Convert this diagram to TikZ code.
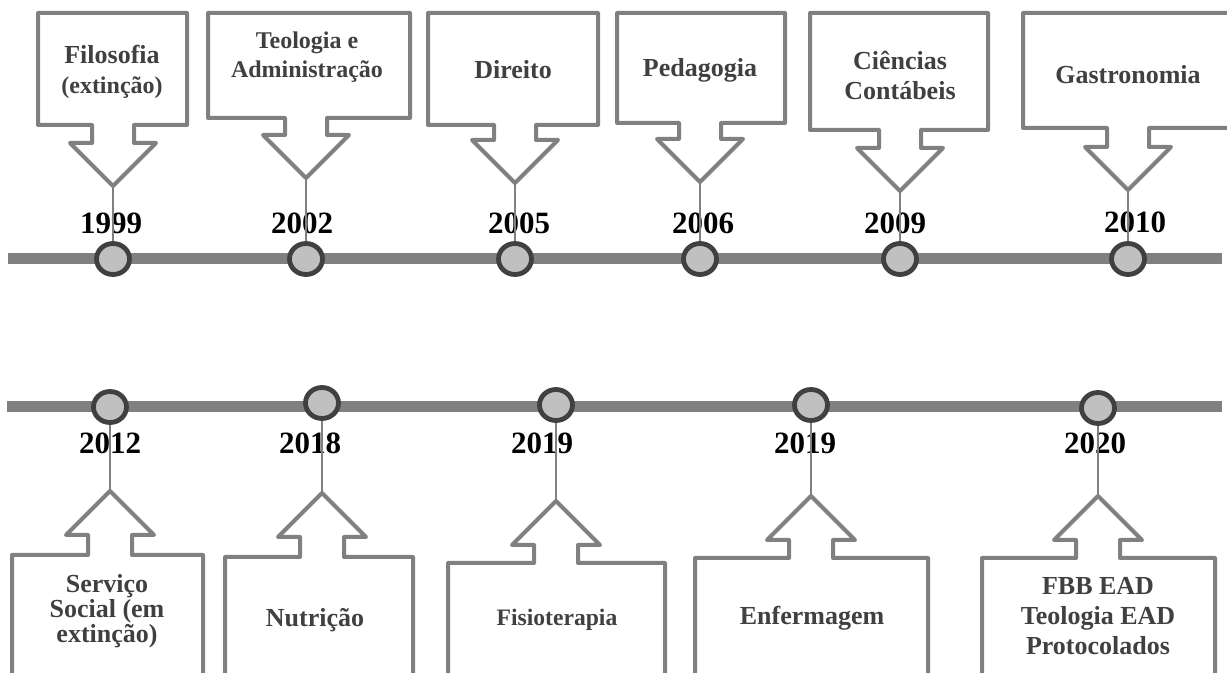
\documentclass[tikz,border=0pt]{standalone}
\usepackage{fontspec}
\setmainfont{Liberation Serif}
\usetikzlibrary{shapes.geometric}
\definecolor{barGray}{HTML}{808080}
\definecolor{dotFill}{HTML}{C0C0C0}
\definecolor{dotEdge}{HTML}{404040}
\definecolor{txtGray}{HTML}{404040}

\begin{document}
\begin{tikzpicture}[x=0.5pt, y=-0.5pt,
  timeline/.style={draw=barGray, line width=5.5pt},
  callout/.style={draw=barGray, line width=2pt, line join=round, fill=white},
  dot/.style={ellipse, draw=dotEdge, fill=dotFill, line width=2.4pt, minimum width=16.5pt, minimum height=15.5pt, inner sep=0pt},
  stem/.style={draw=barGray, line width=0.6pt},
  yearlbl/.style={font=\fontsize{15.5}{18}\selectfont\bfseries, text=black, inner sep=0pt},
  boxlbl/.style={font=\fontsize{13}{15}\selectfont\bfseries, text=txtGray, align=center, inner sep=0pt}]

\clip (0,0) rectangle (1227,673);

\coordinate (TopA) at (8,259);
\coordinate (TopB) at (1222,259);
\coordinate (BotA) at (7,407);
\coordinate (BotB) at (1222,407);
\draw [timeline] (TopA) -- (TopB);
\draw [timeline] (BotA) -- (BotB);

\draw [callout] (38,13) -- (187,13) -- (187,125) -- (134,125) -- (134,143) -- (156,143) -- (113,186) coordinate (tip1999) -- (70,143) -- (92,143) -- (92,125) -- (38,125) -- cycle;
\draw [callout] (208,13) -- (410,13) -- (410,118) -- (327,118) -- (327,135) -- (349,135) -- (306,178) coordinate (tip2002) -- (263,135) -- (285,135) -- (285,118) -- (208,118) -- cycle;
\draw [callout] (428,13) -- (598,13) -- (598,125) -- (536,125) -- (536,140) -- (558,140) -- (515,183) coordinate (tip2005) -- (472,140) -- (494,140) -- (494,125) -- (428,125) -- cycle;
\draw [callout] (617,13) -- (785,13) -- (785,123) -- (721,123) -- (721,139) -- (743,139) -- (700,182) coordinate (tip2006) -- (657,139) -- (679,139) -- (679,123) -- (617,123) -- cycle;
\draw [callout] (810,13) -- (988,13) -- (988,130) -- (921,130) -- (921,148) -- (943,148) -- (900,191) coordinate (tip2009) -- (857,148) -- (879,148) -- (879,130) -- (810,130) -- cycle;
\draw [callout] (1023,13) -- (1260,13) -- (1260,128) -- (1149,128) -- (1149,147) -- (1171,147) -- (1128,190) coordinate (tip2010) -- (1085,147) -- (1107,147) -- (1107,128) -- (1023,128) -- cycle;

\draw [callout] (12,690) -- (12,555) -- (88,555) -- (88,535) -- (66,535) -- (110,491) coordinate (tip2012) -- (154,535) -- (132,535) -- (132,555) -- (203,555) -- (203,690);
\draw [callout] (225,690) -- (225,557) -- (300,557) -- (300,537) -- (278,537) -- (322,493) coordinate (tip2018) -- (366,537) -- (344,537) -- (344,557) -- (413,557) -- (413,690);
\draw [callout] (448,690) -- (448,563) -- (534,563) -- (534,545) -- (512,545) -- (556,501) coordinate (tipFisio) -- (600,545) -- (578,545) -- (578,563) -- (665,563) -- (665,690);
\draw [callout] (695,690) -- (695,558) -- (789,558) -- (789,540) -- (767,540) -- (811,496) coordinate (tipEnf) -- (855,540) -- (833,540) -- (833,558) -- (928,558) -- (928,690);
\draw [callout] (982,690) -- (982,558) -- (1076,558) -- (1076,540) -- (1054,540) -- (1098,496) coordinate (tip2020) -- (1142,540) -- (1120,540) -- (1120,558) -- (1215,558) -- (1215,690);

\node [boxlbl] (Filo) at (112,72) {Filosofia\\{\fontsize{12}{15}\selectfont(extinção)}};
\node [boxlbl, font=\fontsize{12}{14.5}\selectfont\bfseries] (Teol) at (307,57) {Teologia e\\Administração};
\node [boxlbl] (Dir) at (513,70) {Direito};
\node [boxlbl] (Ped) at (700,70) {Pedagogia};
\node [boxlbl] (Cont) at (900,75) {Ciências\\Contábeis};
\node [boxlbl] (Gast) at (1128,75) {Gastronomia};
\node [boxlbl, font=\fontsize{13}{12.5}\selectfont\bfseries] (Serv) at (107,611) {Serviço\\Social (em\\extinção)};
\node [boxlbl] (Nutr) at (315,620) {Nutrição};
\node [boxlbl, font=\fontsize{11.8}{14}\selectfont\bfseries] (Fisio) at (557,620) {Fisioterapia};
\node [boxlbl] (Enf) at (812,618) {Enfermagem};
\node [boxlbl] (EAD) at (1098,616) {FBB EAD\\Teologia EAD\\Protocolados};

\node [dot] (d1999) at (113,259) {};
\node [dot] (d2002) at (306,259) {};
\node [dot] (d2005) at (515,259) {};
\node [dot] (d2006) at (700,259) {};
\node [dot] (d2009) at (900,259) {};
\node [dot] (d2010) at (1128,259) {};
\node [dot] (d2012) at (110,407) {};
\node [dot] (d2018) at (322,403) {};
\node [dot] (dFisio) at (556,405) {};
\node [dot] (dEnf) at (811,405) {};
\node [dot] (d2020) at (1098,408) {};

\node [yearlbl] (y1999) at (111,223) {1999};
\node [yearlbl] (y2002) at (302,223) {2002};
\node [yearlbl] (y2005) at (519,223) {2005};
\node [yearlbl] (y2006) at (703,223) {2006};
\node [yearlbl] (y2009) at (895,223) {2009};
\node [yearlbl] (y2010) at (1135,222) {2010};
\node [yearlbl] (y2012) at (110,443) {2012};
\node [yearlbl] (y2018) at (310,443) {2018};
\node [yearlbl] (yFisio) at (542,443) {2019};
\node [yearlbl] (yEnf) at (805,443) {2019};
\node [yearlbl] (y2020) at (1095,443) {2020};

\draw [stem] (tip1999) -- (d1999);
\draw [stem] (tip2002) -- (d2002);
\draw [stem] (tip2005) -- (d2005);
\draw [stem] (tip2006) -- (d2006);
\draw [stem] (tip2009) -- (d2009);
\draw [stem] (tip2010) -- (d2010);
\draw [stem] (d2012) -- (tip2012);
\draw [stem] (d2018) -- (tip2018);
\draw [stem] (dFisio) -- (tipFisio);
\draw [stem] (dEnf) -- (tipEnf);
\draw [stem] (d2020) -- (tip2020);

\end{tikzpicture}
\end{document}
